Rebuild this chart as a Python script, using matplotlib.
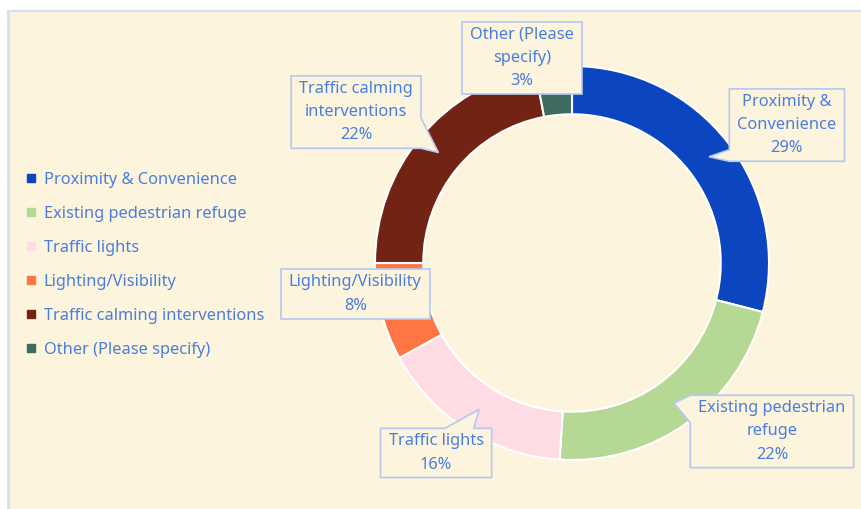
import matplotlib.pyplot as plt
import numpy as np
from matplotlib.patches import Polygon, Rectangle
from matplotlib.lines import Line2D

categories = ["Proximity & Convenience", "Existing pedestrian refuge", "Traffic lights",
              "Lighting/Visibility", "Traffic calming interventions", "Other (Please specify)"]
values = [29, 22, 16, 8, 22, 3]
label_text = ["Proximity &\nConvenience", "Existing pedestrian\nrefuge", "Traffic lights",
              "Lighting/Visibility", "Traffic calming\ninterventions", "Other (Please\nspecify)"]
colors = ["#0B45C0", "#B5D994", "#FFDCE3", "#FF7543", "#722314", "#3D6B5F"]

cream = "#FDF4DE"
txt_col = "#4A7EDC"
box_edge = "#B4C8F2"

# label box centres (pie units) and pointer placement (edge, from, to)
label_pos = [(1.091, 0.70), (1.015, -0.855), (-0.69, -0.964), (-1.10, -0.157), (-1.096, 0.766), (-0.254, 1.04)]
pointers = [("left", 0.0, 0.16), ("left", 0.62, 1.0), ("top", 0.58, 0.84), None, ("right", 0.0, 0.42), None]

plt.rcParams['font.family'] = ['Noto Sans', 'DejaVu Sans']

W, H = 861, 509
cx, cy, R = 572, 263, 197
fig = plt.figure(figsize=(W / 100, H / 100), dpi=100, facecolor="white")
bg = Rectangle((8 / W, 0), 1, 1 - 11 / H, transform=fig.transFigure,
               facecolor=cream, edgecolor="none", zorder=-5)
fig.patches.append(bg)
fig.add_artist(Line2D([8 / W, 8 / W], [0, 1 - 11 / H], color="#D5DEF2", lw=2,
                      transform=fig.transFigure, zorder=-4))
fig.add_artist(Line2D([8 / W, 1], [1 - 11 / H, 1 - 11 / H], color="#D5DEF2", lw=1.5,
                      transform=fig.transFigure, zorder=-4))

ax = fig.add_axes([0, 0, 1, 1])
ax.pie(values, colors=colors, startangle=90, counterclock=False, radius=1,
       wedgeprops=dict(width=0.245, edgecolor="white", linewidth=1.5))
ax.set_xlim(-cx / R, (W - cx) / R)
ax.set_ylim(-(H - cy) / R, cy / R)
ax.set_aspect("auto")
ax.axis("off")

texts = []
for i, (lab, v) in enumerate(zip(label_text, values)):
    x, y = label_pos[i]
    t = ax.text(x, y, f"{lab}\n{v}%", ha="center", va="center", color=txt_col,
                fontsize=11.8, linespacing=1.6, zorder=5)
    texts.append(t)

fig.canvas.draw()
renderer = fig.canvas.get_renderer()
inv = ax.transData.inverted()
padx, pady = 8, 5
for i, t in enumerate(texts):
    bb = t.get_window_extent(renderer)
    x0, y0, x1, y1 = bb.x0 - padx, bb.y0 - pady, bb.x1 + padx, bb.y1 + pady
    w, h = x1 - x0, y1 - y0
    cum = sum(values[:i]) + values[i] / 2
    ang = np.deg2rad(90 - cum * 3.6)
    tip = tuple(ax.transData.transform((0.88 * np.cos(ang), 0.88 * np.sin(ang))))
    edges = {"bottom": [(x0, y0)], "right": [(x1, y0)], "top": [(x1, y1)], "left": [(x0, y1)]}
    p = pointers[i]
    if p is not None:
        side, f0, f1 = p
        if side == "left":
            edges["left"] += [(x0, y0 + f1 * h), tip, (x0, y0 + f0 * h)]
        elif side == "right":
            edges["right"] += [(x1, y0 + f0 * h), tip, (x1, y0 + f1 * h)]
        elif side == "top":
            edges["top"] += [(x0 + f1 * w, y1), tip, (x0 + f0 * w, y1)]
        else:
            edges["bottom"] += [(x0 + f0 * w, y0), tip, (x0 + f1 * w, y0)]
    verts = edges["bottom"] + edges["right"] + edges["top"] + edges["left"]
    verts = inv.transform(np.array(verts))
    ax.add_patch(Polygon(verts, closed=True, facecolor=cream, edgecolor=box_edge,
                         linewidth=1.2, zorder=4, clip_on=False))

handles = [Line2D([], [], marker="s", linestyle="none", markersize=6, color=c) for c in colors]
leg = fig.legend(handles, categories, loc="center left", bbox_to_anchor=(20 / W, 1 - 265 / H),
                 frameon=False, fontsize=11.8, labelcolor=txt_col, handlelength=0.6,
                 handletextpad=0.45, labelspacing=1.1, borderaxespad=0)

fig.savefig("out.png", dpi=100, facecolor="white")
